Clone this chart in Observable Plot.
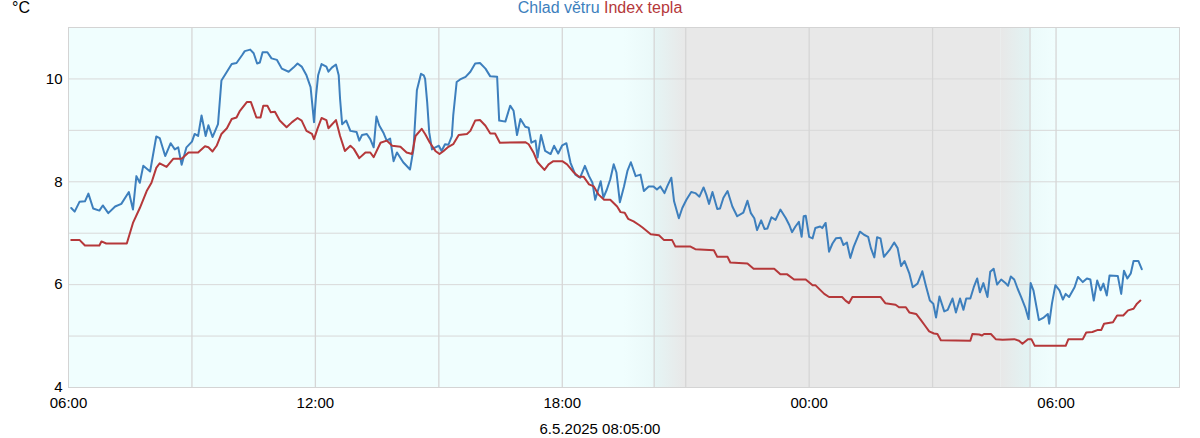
<!DOCTYPE html>
<html><head><meta charset="utf-8">
<script src="https://cdn.jsdelivr.net/npm/d3@7"></script>
<script src="https://cdn.jsdelivr.net/npm/@observablehq/plot@0.6"></script>
<style>
body{margin:0;background:#fff;font-family:"Liberation Sans",Arial,sans-serif;}
#wrap{position:relative;width:1200px;height:438px;overflow:hidden;}
#legend{position:absolute;top:0;left:0;width:1200px;text-align:center;font-size:16px;line-height:16px;}
#unit{position:absolute;left:12px;top:0;font-size:16px;line-height:16px;}
#caption{position:absolute;left:0;width:1200px;top:421px;text-align:center;font-size:15px;line-height:16px;}
</style></head><body>
<div id="wrap"><div id="chart"></div>
<div id="unit">°C</div>
<div id="legend"><span id="l1"></span> <span id="l2"></span></div>
<div id="caption"></div></div>
<script>
// ---- data ----
const seriesNames = ["Chlad větru", "Index tepla"];
const seriesColors = ["#3d7fbd", "#b5383a"];
const captionText = "6.5.2025 08:05:00";
const unitText = "°C";

const blueTimes = ["06:04","06:09","06:16","06:24","06:29","06:36","06:45","06:50","06:58","07:08","07:17","07:28","07:34","07:39","07:44","07:49","07:59","08:08","08:13","08:21","08:29","08:35","08:40","08:45","08:52","09:00","09:04","09:09","09:14","09:20","09:24","09:30","09:38","09:43","09:51","09:58","10:05","10:13","10:17","10:25","10:30","10:35","10:39","10:43","10:50","10:56","11:04","11:11","11:21","11:28","11:34","11:40","11:47","11:53","11:58","12:01","12:04","12:09","12:16","12:19","12:24","12:30","12:34","12:36","12:39","12:45","12:51","13:00","13:04","13:08","13:15","13:20","13:25","13:29","13:33","13:39","13:44","13:49","13:54","13:59","14:08","14:18","14:23","14:28","14:34","14:38","14:40","14:43","14:46","14:50","14:55","15:00","15:04","15:09","15:14","15:19","15:21","15:26","15:31","15:39","15:46","15:53","16:00","16:08","16:15","16:25","16:28","16:37","16:44","16:49","16:54","16:59","17:06","17:11","17:15","17:21","17:24","17:29","17:35","17:43","17:48","17:54","18:00","18:06","18:12","18:19","18:26","18:33","18:39","18:44","18:48","18:56","19:00","19:05","19:10","19:15","19:19","19:24","19:30","19:35","19:40","19:47","19:54","19:59","20:06","20:13","20:18","20:23","20:29","20:33","20:39","20:43","20:50","20:55","21:01","21:08","21:14","21:20","21:26","21:30","21:34","21:39","21:46","21:50","21:55","22:01","22:08","22:15","22:24","22:30","22:35","22:40","22:44","22:50","22:55","22:59","23:05","23:11","23:18","23:26","23:31","23:35","23:40","23:45","23:49","23:52","23:55","00:00","00:05","00:09","00:16","00:19","00:24","00:27","00:29","00:34","00:39","00:46","00:50","00:55","01:00","01:05","01:14","01:20","01:26","01:30","01:35","01:39","01:44","01:49","01:57","02:04","02:09","02:14","02:19","02:26","02:31","02:38","02:45","02:50","02:56","03:01","03:05","03:10","03:17","03:22","03:29","03:34","03:40","03:45","03:49","03:55","04:00","04:05","04:09","04:14","04:20","04:24","04:29","04:34","04:40","04:47","04:50","04:54","04:59","05:04","05:09","05:15","05:20","05:23","05:27","05:32","05:35","05:42","05:48","05:50","05:54","05:59","06:05","06:10","06:14","06:19","06:27","06:32","06:39","06:45","06:50","06:55","07:00","07:05","07:09","07:14","07:18","07:30","07:35","07:39","07:44","07:49","07:53","08:00","08:05"];
const blueValues = [7.49,7.42,7.61,7.62,7.77,7.48,7.44,7.54,7.39,7.52,7.57,7.80,7.46,8.11,7.98,8.31,8.20,8.88,8.85,8.50,8.75,8.63,8.67,8.33,8.67,8.78,8.93,8.89,9.29,8.89,9.10,8.87,9.12,9.97,10.14,10.29,10.31,10.46,10.54,10.57,10.50,10.30,10.32,10.52,10.52,10.40,10.37,10.20,10.14,10.22,10.30,10.24,10.07,9.84,9.16,9.68,10.07,10.29,10.24,10.14,10.22,10.28,10.07,9.61,9.12,9.19,8.99,8.97,8.80,8.91,8.93,8.83,8.67,9.27,9.10,8.96,8.80,8.84,8.40,8.57,8.38,8.24,8.63,9.78,10.10,10.07,10.00,9.55,8.96,8.63,8.67,8.70,8.60,8.73,8.72,8.89,9.29,9.94,9.99,10.04,10.14,10.30,10.31,10.20,10.05,10.04,9.19,9.17,9.48,9.38,8.91,9.22,9.07,9.05,8.76,8.80,8.47,8.91,8.60,8.54,8.70,8.55,8.71,8.75,8.37,8.14,8.08,8.31,8.11,7.98,7.65,8.01,7.69,7.85,8.05,8.34,8.18,7.60,7.91,8.21,8.38,8.11,8.14,7.82,7.91,7.91,7.85,7.91,7.78,7.91,8.08,7.62,7.29,7.49,7.65,7.80,7.78,7.71,7.89,7.75,7.57,7.80,7.47,7.48,7.69,7.82,7.52,7.33,7.40,7.63,7.39,7.29,7.06,7.25,7.08,7.09,7.31,7.26,7.46,7.29,7.16,7.02,7.13,7.22,6.93,7.33,7.34,6.93,6.90,7.10,7.13,7.10,7.20,6.87,6.64,6.80,6.90,6.91,6.77,6.82,6.52,6.74,7.03,6.97,6.93,6.71,6.53,6.92,6.90,6.54,6.67,6.82,6.71,6.36,6.46,6.22,5.95,6.02,6.26,5.99,5.69,5.63,5.36,5.77,5.48,5.51,5.73,5.46,5.73,5.51,5.73,5.73,5.95,6.12,5.85,6.03,5.76,6.25,6.31,6.00,6.10,6.02,5.98,6.16,6.10,5.92,5.76,5.56,5.33,6.03,5.89,5.53,5.31,5.36,5.43,5.24,5.63,5.99,5.89,5.71,5.82,5.76,5.95,6.15,6.05,6.12,6.10,5.69,6.08,5.89,6.02,5.79,6.18,6.17,5.82,6.27,6.12,6.22,6.46,6.46,6.30];

const redTimes = ["06:04","06:16","06:24","06:45","06:48","06:55","07:25","07:34","07:44","07:54","08:01","08:08","08:13","08:23","08:33","08:45","08:55","09:09","09:19","09:24","09:30","09:36","09:43","09:51","09:58","10:05","10:10","10:20","10:26","10:34","10:40","10:44","10:50","10:55","11:01","11:08","11:18","11:26","11:34","11:40","11:47","11:55","11:58","12:03","12:09","12:16","12:19","12:30","12:36","12:43","12:51","12:56","13:04","13:13","13:20","13:25","13:35","13:44","13:52","14:04","14:13","14:21","14:26","14:35","14:40","14:47","14:55","15:01","15:07","15:14","15:21","15:29","15:41","15:46","15:53","16:00","16:08","16:15","16:22","16:29","17:06","17:11","17:18","17:24","17:34","17:40","17:47","18:00","18:07","18:17","18:24","18:31","18:39","18:46","18:53","19:01","19:10","19:20","19:25","19:31","19:36","19:44","19:52","19:57","20:09","20:21","20:28","20:40","20:45","21:07","21:14","21:41","21:46","22:01","22:05","22:30","22:39","23:09","23:18","23:28","23:38","23:55","00:05","00:09","00:22","00:29","00:48","00:53","00:58","01:03","01:44","01:51","02:06","02:11","02:21","02:26","02:36","02:43","02:49","02:55","03:02","03:07","03:12","03:55","03:58","04:08","04:12","04:15","04:25","04:32","04:42","04:59","05:06","05:11","05:19","05:24","05:29","06:14","06:18","06:39","06:44","06:53","07:01","07:06","07:10","07:23","07:29","07:38","07:45","07:53","07:58","08:03"];
const redValues = [6.87,6.87,6.76,6.76,6.84,6.80,6.80,7.20,7.49,7.82,7.98,8.27,8.36,8.29,8.45,8.45,8.57,8.57,8.69,8.67,8.59,8.70,8.93,9.04,9.22,9.25,9.38,9.55,9.55,9.25,9.25,9.48,9.48,9.35,9.36,9.19,9.06,9.16,9.24,9.19,8.99,8.93,8.83,9.03,9.24,9.20,9.04,9.20,8.89,8.60,8.70,8.64,8.46,8.57,8.57,8.48,8.76,8.80,8.70,8.68,8.57,8.54,8.89,9.03,8.93,8.76,8.60,8.54,8.60,8.68,8.73,8.91,8.93,8.99,9.19,9.20,9.09,8.94,8.94,8.76,8.77,8.73,8.57,8.38,8.23,8.34,8.40,8.40,8.34,8.18,8.10,8.10,7.95,7.91,7.75,7.65,7.65,7.52,7.41,7.40,7.28,7.23,7.16,7.11,6.98,6.96,6.87,6.87,6.74,6.74,6.69,6.67,6.54,6.54,6.43,6.41,6.31,6.31,6.20,6.20,6.10,6.10,5.99,5.99,5.82,5.76,5.76,5.69,5.64,5.76,5.76,5.64,5.61,5.56,5.56,5.46,5.43,5.31,5.20,5.09,5.05,5.04,4.92,4.91,5.04,5.03,5.01,5.04,5.04,4.94,4.93,4.94,4.91,4.85,4.94,4.94,4.81,4.81,4.94,4.94,5.07,5.08,5.12,5.12,5.24,5.27,5.40,5.40,5.50,5.53,5.63,5.69];

const yTicks = [4, 6, 8, 10];
const yGrid = [5, 6, 7, 8, 9, 10];
// twilight / night boundaries (times)
const duskTimes = ["19:30", "20:14", "21:00"];   // gradient start, sunset, night
const dawnTimes = ["04:40", "05:22", "06:00"];   // night end, sunrise, full day
const dayColor = "#f0fefe", nightColor = "#e8e8e8";

// ---- helpers ----
function toDates(times, startDay = 5) {
  let day = startDay, prev = -1;
  return times.map(t => {
    const [h, m] = t.split(":").map(Number);
    const mins = h * 60 + m;
    if (mins < prev) day++;
    prev = mins;
    return new Date(Date.UTC(2025, 4, day, h, m));
  });
}
const at = (day, t) => { const [h, m] = t.split(":").map(Number); return new Date(Date.UTC(2025, 4, day, h, m)); };
const xMin = at(5, "06:00"), xMax = at(6, "09:00");

const blueD = toDates(blueTimes).map((d, i) => ({t: d, v: blueValues[i]}));
const redD = toDates(redTimes).map((d, i) => ({t: d, v: redValues[i]}));

const dusk = duskTimes.map(t => at(5, t));
const dawn = dawnTimes.map(t => at(6, t));
const bands = [
  {a: xMin, b: xMax, f: dayColor},
  {a: dusk[0], b: dusk[2], f: "url(#duskGrad)"},
  {a: dusk[2], b: dawn[0], f: nightColor},
  {a: dawn[0], b: dawn[2], f: "url(#dawnGrad)"}
];
const grid3 = d3.utcHour.every(3).range(xMin, xMax).slice(1);
const sunLines = [dusk[1], dawn[1]];

const chart = Plot.plot({
  width: 1200, height: 438,
  marginLeft: 68, marginRight: 21, marginTop: 27, marginBottom: 51,
  style: {fontFamily: "'Liberation Sans', Arial, sans-serif", fontSize: "15px", color: "#000", background: "transparent"},
  x: {type: "utc", domain: [xMin, xMax], ticks: d3.utcHour.every(6).range(xMin, xMax), tickFormat: d3.utcFormat("%H:%M"), tickSize: 0, tickPadding: 10, label: null},
  y: {domain: [4, 11], ticks: yTicks, tickFormat: d => String(d), tickSize: 0, tickPadding: 6, label: null},
  marks: [
    Plot.rect(bands, {x1: "a", x2: "b", y1: 4, y2: 11, fill: d => d.f, inset: 0}),
    Plot.ruleY(yGrid, {stroke: "#d9d9d9", strokeWidth: 1}),
    Plot.ruleX(grid3, {stroke: "#d6d6d6", strokeWidth: 1.3}),
    Plot.ruleX(sunLines, {stroke: "#d6d6d6", strokeWidth: 1.3}),
    Plot.frame({stroke: "#d4d4d4"}),
    Plot.line(blueD, {x: "t", y: "v", stroke: seriesColors[0], strokeWidth: 2}),
    Plot.line(redD, {x: "t", y: "v", stroke: seriesColors[1], strokeWidth: 2})
  ]
});

// gradients for twilight
const svg = d3.select(chart);
const defs = svg.insert("defs", ":first-child");
function grad(id, stops) {
  const g = defs.append("linearGradient").attr("id", id).attr("x1", 0).attr("x2", 1).attr("y1", 0).attr("y2", 0);
  stops.forEach(([o, c]) => g.append("stop").attr("offset", o).attr("stop-color", c));
}
const duskSun = (dusk[1] - dusk[0]) / (dusk[2] - dusk[0]);
const dawnSun = (dawn[1] - dawn[0]) / (dawn[2] - dawn[0]);
grad("duskGrad", [[0, dayColor], [duskSun, "#eaf9f9"], [duskSun, "#e5f5f5"], [1, nightColor]]);
grad("dawnGrad", [[0, nightColor], [dawnSun, "#e2f3f3"], [dawnSun, "#ebfafa"], [1, dayColor]]);

document.getElementById("chart").appendChild(chart);
document.getElementById("l1").textContent = seriesNames[0];
document.getElementById("l1").style.color = seriesColors[0];
document.getElementById("l2").textContent = seriesNames[1];
document.getElementById("l2").style.color = seriesColors[1];
document.getElementById("caption").textContent = captionText;
document.getElementById("unit").textContent = unitText;
</script>
</body></html>
